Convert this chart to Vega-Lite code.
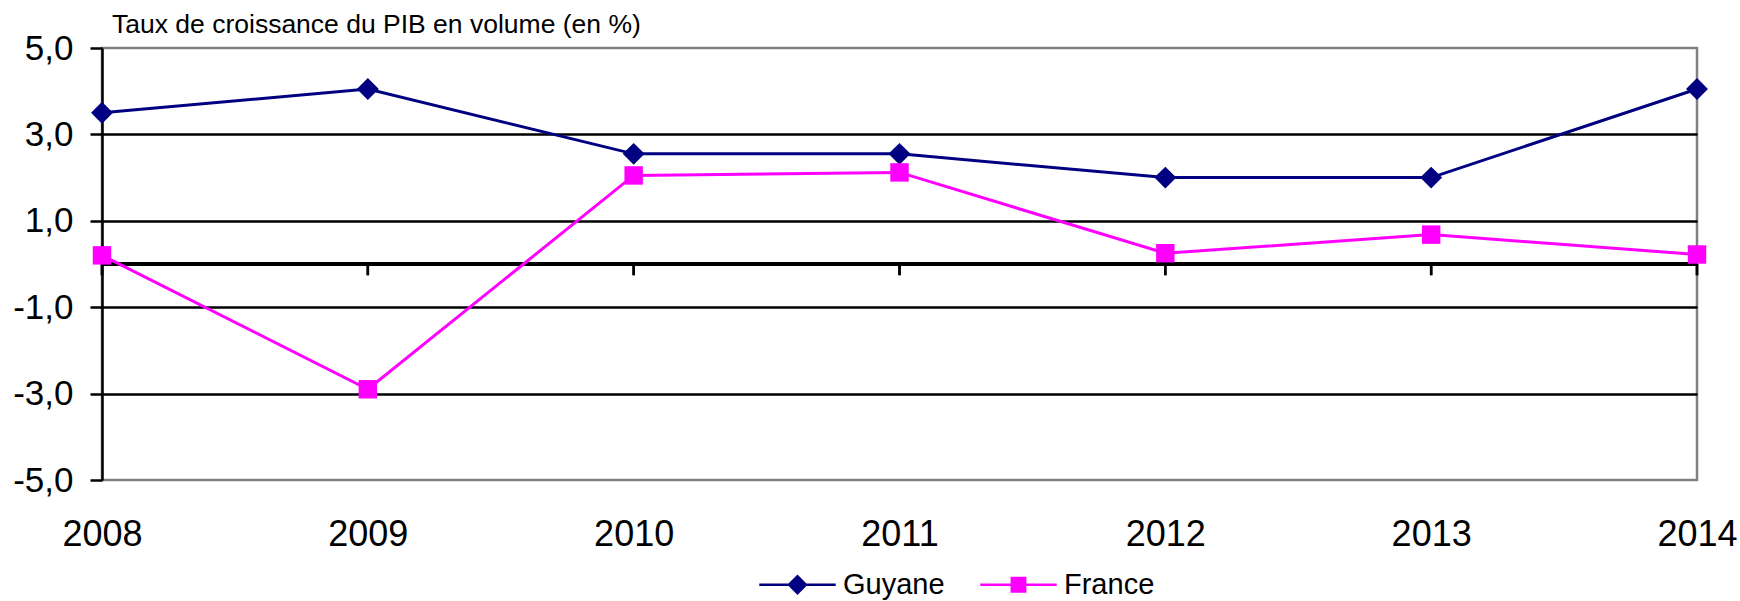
{
  "$schema": "https://vega.github.io/schema/vega-lite/v6.json",
  "width": 1595,
  "height": 432,
  "autosize": {"type": "none"},
  "padding": {"left": 102, "top": 48, "right": 43, "bottom": 121},
  "background": "white",
  "title": {
    "text": "Taux de croissance du PIB en volume (en %)",
    "anchor": "start",
    "frame": "group",
    "dx": 10,
    "dy": 28,
    "offset": 0,
    "baseline": "alphabetic",
    "font": "Liberation Sans",
    "fontSize": 26.5,
    "fontWeight": "normal",
    "color": "#000000"
  },
  "config": {
    "view": {"stroke": "#808080", "strokeWidth": 2.5},
    "font": "Liberation Sans"
  },
  "data": {
    "values": [
      {"year": "2008", "series": "Guyane", "value": 3.5},
      {"year": "2009", "series": "Guyane", "value": 4.05},
      {"year": "2010", "series": "Guyane", "value": 2.55},
      {"year": "2011", "series": "Guyane", "value": 2.55},
      {"year": "2012", "series": "Guyane", "value": 2.0},
      {"year": "2013", "series": "Guyane", "value": 2.0},
      {"year": "2014", "series": "Guyane", "value": 4.05},
      {"year": "2008", "series": "France", "value": 0.2},
      {"year": "2009", "series": "France", "value": -2.9},
      {"year": "2010", "series": "France", "value": 2.05},
      {"year": "2011", "series": "France", "value": 2.12},
      {"year": "2012", "series": "France", "value": 0.25},
      {"year": "2013", "series": "France", "value": 0.68},
      {"year": "2014", "series": "France", "value": 0.22}
    ]
  },
  "encoding": {
    "x": {
      "field": "year",
      "type": "ordinal",
      "scale": {"type": "point", "padding": 0},
      "axis": {
        "title": null,
        "domain": false,
        "ticks": false,
        "tickSize": 0,
        "labelAngle": 0,
        "labelPadding": 37,
        "labelFontSize": 36,
        "labelFont": "Liberation Sans",
        "labelColor": "#000000",
        "grid": false
      }
    },
    "y": {
      "field": "value",
      "type": "quantitative",
      "scale": {"domain": [-5, 5], "nice": false, "zero": false},
      "axis": {
        "title": null,
        "values": [-5, -3, -1, 1, 3, 5],
        "labelExpr": "(datum.value < 0 ? '-' : '') + replace(format(abs(datum.value), '.1f'), '.', ',')",
        "labelFontSize": 35,
        "labelFont": "Liberation Sans",
        "labelColor": "#000000",
        "labelPadding": 17,
        "tickSize": 12,
        "tickWidth": 2.5,
        "tickColor": "#000000",
        "domainColor": "#000000",
        "domainWidth": 2.5,
        "grid": true,
        "gridWidth": 2.5,
        "gridColor": {"condition": {"test": "datum.value == 5 || datum.value == -5", "value": "transparent"}, "value": "#000000"}
      }
    },
    "color": {
      "field": "series",
      "type": "nominal",
      "scale": {"domain": ["Guyane", "France"], "range": ["#000080", "#FF00FF"]},
      "legend": {
        "title": null,
        "orient": "none",
        "direction": "horizontal",
        "legendX": 681,
        "legendY": 522,
        "symbolSize": 608,
        "symbolType": "M-3,0L-0.68,0M-0.68,0L0,-0.68L0.68,0L0,0.68ZM0.68,0L3,0",
        "symbolStrokeWidth": 2.5,
        "labelFontSize": 29,
        "labelFont": "Liberation Sans",
        "labelColor": "#000000",
        "labelOffset": 31,
        "columnPadding": 30,
        "padding": 0,
        "encode": {
          "symbols": {
            "update": {
              "shape": {"signal": "datum.value == 'Guyane' ? 'M-3.1,0L-0.68,0M-0.68,0L0,-0.68L0.68,0L0,0.68ZM0.68,0L3.1,0' : 'M-3.1,0L-0.54,0M-0.54,-0.54L0.54,-0.54L0.54,0.54L-0.54,0.54ZM0.54,0L3.1,0'"},
              "stroke": {"signal": "datum.value == 'Guyane' ? '#000080' : '#FF00FF'"},
              "fill": {"signal": "datum.value == 'Guyane' ? '#000080' : '#FF00FF'"},
              "strokeWidth": {"value": 2.5},
              "opacity": {"value": 1},
              "fillOpacity": {"value": 1}
            }
          }
        }
      }
    }
  },
  "layer": [
    {
      "mark": {"type": "rule", "color": "#000000", "strokeWidth": 2.5},
      "encoding": {"y": {"datum": 0}, "x": null, "color": null}
    },
    {
      "mark": {"type": "rule", "color": "#000000", "strokeWidth": 2.5},
      "encoding": {"y": {"datum": 0}, "y2": {"datum": -0.26}, "color": null}
    },
    {
      "mark": {"type": "line", "strokeWidth": 3}
    },
    {
      "transform": [{"filter": "datum.series == 'Guyane'"}],
      "mark": {"type": "point", "shape": "diamond", "size": 480, "filled": true, "opacity": 1}
    },
    {
      "transform": [{"filter": "datum.series == 'France'"}],
      "mark": {"type": "point", "shape": "square", "size": 340, "filled": true, "opacity": 1}
    }
  ]
}
